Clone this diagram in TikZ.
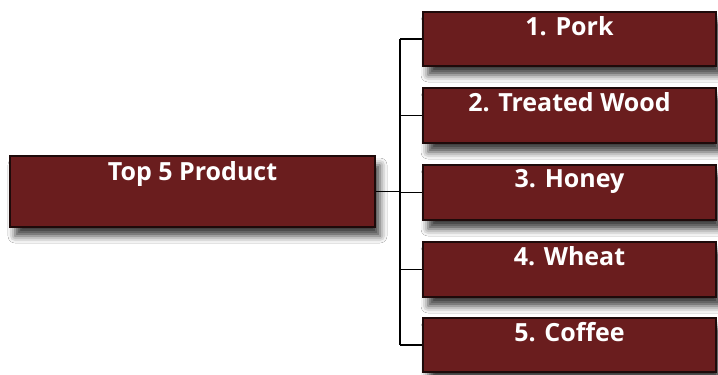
\documentclass[tikz,border=0pt]{standalone}
\usepackage{fontspec}
\setmainfont{Open Sans}
\usetikzlibrary{shadows.blur}
\definecolor{boxred}{HTML}{6A1D1E}
\definecolor{boxedge}{HTML}{1E0A0A}
\tikzset{
  prodbox/.style={draw=boxedge, line width=1.4pt, fill=boxred, rectangle, inner sep=0pt,
    blur shadow={shadow xshift=5pt, shadow yshift=-9pt, shadow blur radius=7pt, shadow opacity=75}},
  boxtext/.style={anchor=north, text=white, font=\bfseries\fontsize{25}{27}\selectfont, inner sep=0pt},
  conn/.style={draw=black, line width=1.3pt}
}
\begin{document}
\begin{tikzpicture}[x=1pt,y=-1pt]
\useasboundingbox (0,0) rectangle (718,375);
\fill[white] (0,0) rectangle (718,375);
\node[prodbox, minimum width=365pt, minimum height=71pt,
  label={[boxtext, yshift=-6pt]north:Top 5 Product}] (top) at (192.5,191.5) {};
\node[prodbox, minimum width=293pt, minimum height=54pt,
  label={[boxtext, yshift=-5pt]north:1. Pork}] (b1) at (569.5,39) {};
\node[prodbox, minimum width=293pt, minimum height=55pt,
  label={[boxtext, yshift=-5pt]north:2. Treated Wood}] (b2) at (569.5,115.5) {};
\node[prodbox, minimum width=293pt, minimum height=55pt,
  label={[boxtext, yshift=-5pt]north:3. Honey}] (b3) at (569.5,192.5) {};
\node[prodbox, minimum width=293pt, minimum height=55pt,
  label={[boxtext, yshift=-5pt]north:4. Wheat}] (b4) at (569.5,269.5) {};
\node[prodbox, minimum width=293pt, minimum height=54pt,
  label={[boxtext, yshift=-5pt]north:5. Coffee}] (b5) at (569.5,345) {};
\coordinate (j) at (400,192);
\draw[conn] (top.east) -- (top.east -| j);
\draw[conn] (j |- b1.west) -- (j |- b5.west);
\foreach \b in {b1,b2,b3,b4,b5}{
  \draw[conn] (j |- \b.west) -- (\b.west);
}
\end{tikzpicture}
\end{document}
